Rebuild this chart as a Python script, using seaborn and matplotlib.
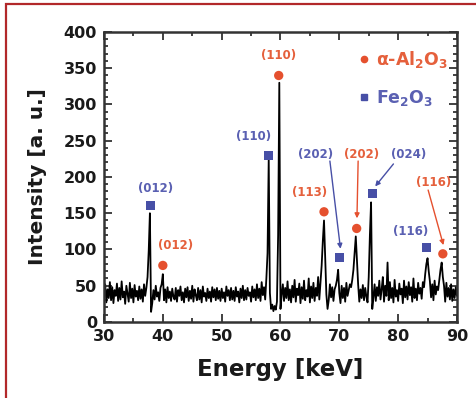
import numpy as np
import pandas as pd
import matplotlib
matplotlib.use("Agg")
import matplotlib.pyplot as plt
from matplotlib.ticker import MultipleLocator
from matplotlib.patches import Rectangle
import seaborn as sns

# ---------------- data ----------------
energy_start, energy_step = 30.0, 0.2
intensity = [
    38, 52, 27, 45, 33, 55, 30, 48, 26, 44,
    36, 53, 29, 47, 31, 56, 34, 42, 25, 50,
    39, 28, 54, 33, 46, 27, 51, 35, 43, 30,
    49, 32, 45, 28, 52, 36, 47, 62, 98, 150,
    14, 26, 44, 31, 50, 35, 41, 29, 47, 52,
    66, 30, 45, 27, 48, 33, 42, 29, 46, 35,
    31, 47, 28, 44, 36, 49, 30, 41, 27, 46,
    34, 48, 29, 43, 32, 50, 28, 45, 37, 30,
    47, 31, 44, 27, 49, 35, 40, 29, 46, 33,
    42, 28, 48, 34, 45, 30, 47, 32, 43, 29,
    46, 33, 41, 28, 49, 36, 44, 30, 47, 31,
    43, 29, 48, 35, 42, 27, 46, 33, 50, 30,
    44, 31, 47, 36, 41, 28, 49, 34, 45, 30,
    52, 33, 46, 29, 55, 37, 48, 31, 60, 95,
    225, 40, 18, 24, 15, 22, 17, 28, 120, 330,
    18, 38, 52, 29, 47, 33, 56, 30, 45, 27,
    50, 34, 58, 28, 46, 37, 53, 26, 48, 32,
    57, 30, 44, 35, 60, 27, 49, 33, 54, 29,
    47, 36, 62, 31, 55, 78, 112, 140, 88, 38,
    18, 30, 52, 34, 48, 29, 45, 50, 58, 72,
    40, 26, 50, 33, 47, 28, 54, 36, 44, 52,
    48, 58, 72, 96, 118, 86, 52, 28, 45, 33,
    51, 30, 47, 35, 27, 62, 120, 165, 18, 34,
    52, 29, 48, 36, 57, 31, 45, 62, 28, 50,
    36, 82, 30, 55, 33, 47, 27, 58, 35, 44,
    29, 53, 38, 46, 26, 57, 34, 49, 31, 55,
    37, 48, 28, 60, 33, 46, 30, 54, 39, 47,
    32, 55, 48, 66, 80, 88, 70, 56, 34, 52,
    30, 57, 38, 49, 44, 58, 72, 82, 62, 50,
    28, 54, 35, 47, 31, 52, 29, 45, 33, 48,
    36,
]
energy = energy_start + energy_step * np.arange(len(intensity))

# peak markers
al_energy = [40.0, 59.7, 67.4, 72.95, 87.6]
al_intensity = [78, 340, 152, 129, 94]
fe_energy = [37.9, 58.0, 70.0, 75.6, 84.9]
fe_intensity = [161, 230, 89, 177, 103]

# peak labels: text, x, y, phase
label_text = ["(012)", "(012)", "(110)", "(110)", "(113)", "(202)", "(202)", "(024)", "(116)", "(116)"]
label_x = [38.8, 42.2, 59.7, 55.5, 65.0, 65.9, 73.8, 81.7, 82.1, 86.0]
label_y = [184, 105, 367, 256, 178, 231, 231, 231, 125, 192]
label_phase = ["Fe", "Al", "Al", "Fe", "Al", "Fe", "Al", "Fe", "Fe", "Al"]

# arrows: start (x, y) -> end (x, y), phase
arrow_x0 = [68.4, 73.2, 79.2, 85.1]
arrow_y0 = [222, 222, 218, 182]
arrow_x1 = [70.2, 73.0, 76.1, 87.7]
arrow_y1 = [101, 143, 187, 106]
arrow_phase = ["Fe", "Al", "Fe", "Al"]

legend_labels = {"Al": r"$\alpha$-Al$_2$O$_3$", "Fe": r"Fe$_2$O$_3$"}

# ---------------- style ----------------
RED = "#e5502e"
BLUE = "#474fa6"
RED_TXT = "#e5603c"
BLUE_TXT = "#5a60b2"
colors = {"Al": RED, "Fe": BLUE}
txt_colors = {"Al": RED_TXT, "Fe": BLUE_TXT}

sns.set_style("ticks")
plt.rcParams["font.family"] = ["DejaVu Sans"]
plt.rcParams["font.weight"] = "bold"
plt.rcParams["mathtext.default"] = "regular"

fig = plt.figure(figsize=(4.76, 3.98), dpi=100)
ax = fig.add_axes([0.2185, 0.191, 0.7415, 0.7286])

df = pd.DataFrame({"Energy": energy, "Intensity": intensity})
sns.lineplot(data=df, x="Energy", y="Intensity", ax=ax, color="black",
             lw=1.3, estimator=None, errorbar=None)

sns.scatterplot(x=al_energy, y=al_intensity, ax=ax, color=RED, marker="o",
                s=45, edgecolor="none", zorder=5)
sns.scatterplot(x=fe_energy, y=fe_intensity, ax=ax, color=BLUE, marker="s",
                s=42, edgecolor="none", zorder=5)

for t, x, y, p in zip(label_text, label_x, label_y, label_phase):
    ax.text(x, y, t, color=txt_colors[p], fontsize=8.5, fontweight="bold",
            ha="center", va="center", zorder=6)

for x0, y0, x1, y1, p in zip(arrow_x0, arrow_y0, arrow_x1, arrow_y1, arrow_phase):
    ax.annotate("", xy=(x1, y1), xytext=(x0, y0),
                arrowprops=dict(arrowstyle="-|>", color=colors[p], lw=1.0,
                                mutation_scale=7, shrinkA=0, shrinkB=0),
                zorder=6)

# legend
handles = [
    plt.Line2D([], [], ls="none", marker="o", color=RED, markersize=4.5),
    plt.Line2D([], [], ls="none", marker="s", color=BLUE, markersize=4.5),
]
leg = ax.legend(handles, [legend_labels["Al"], legend_labels["Fe"]],
                loc="upper right", bbox_to_anchor=(1.0, 0.97), frameon=False,
                handlelength=0.6, handletextpad=0.4, labelspacing=1.0,
                prop={"size": 12.5, "weight": "bold"},
                labelcolor=[RED_TXT, BLUE_TXT], borderaxespad=0.1)

ax.set_xlim(30, 90)
ax.set_ylim(0, 400)
ax.xaxis.set_major_locator(MultipleLocator(10))
ax.xaxis.set_minor_locator(MultipleLocator(5))
ax.yaxis.set_major_locator(MultipleLocator(50))
ax.yaxis.set_minor_locator(MultipleLocator(10))
ax.tick_params(which="both", direction="in", top=True, right=True,
               color="#333333", width=1.3)
ax.tick_params(which="major", length=6, labelsize=11.5, pad=5)
ax.tick_params(which="minor", length=3)
for lab in ax.get_xticklabels() + ax.get_yticklabels():
    lab.set_fontweight("bold")
    lab.set_color("#1a1a1a")
for sp in ax.spines.values():
    sp.set_linewidth(1.8)
    sp.set_color("#333333")

ax.set_xlabel("Energy [keV]", fontsize=16.5, fontweight="bold", color="#1a1a1a", labelpad=10)
ax.set_ylabel("Intensity [a. u.]", fontsize=14.5, fontweight="bold", color="#1a1a1a", labelpad=12)

fig.patches.append(Rectangle((6 / 476, -0.2), 1.2, 1.2 - 4 / 398, transform=fig.transFigure,
                             fill=False, edgecolor="#b2282a", lw=1.6, zorder=10))

fig.savefig("out.png", dpi=100, facecolor="white")
